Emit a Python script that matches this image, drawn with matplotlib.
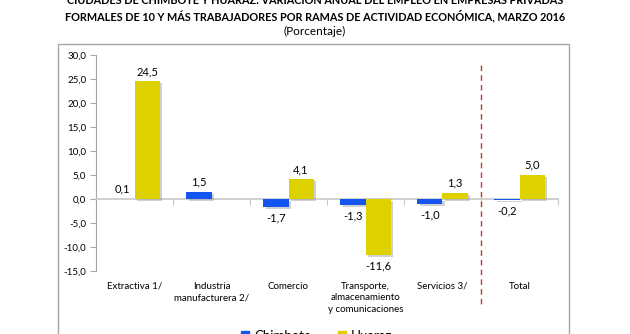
import matplotlib
matplotlib.use("Agg")
import matplotlib.pyplot as plt
import matplotlib.patheffects as pe
from matplotlib.patches import Rectangle
import numpy as np

categories = ["Extractiva 1/", "Industria\nmanufacturera 2/", "Comercio",
              "Transporte,\nalmacenamiento\ny comunicaciones", "Servicios 3/", "Total"]
chimbote = [0.1, 1.5, -1.7, -1.3, -1.0, -0.2]
huaraz = [24.5, None, 4.1, -11.6, 1.3, 5.0]
series_names = ["Chimbote", "Huaraz"]
yticks = [-15, -10, -5, 0, 5, 10, 15, 20, 25, 30]

title1 = "CIUDADES DE CHIMBOTE Y HUARAZ: VARIACIÓN ANUAL DEL EMPLEO EN EMPRESAS PRIVADAS"
title2 = "FORMALES DE 10 Y MÁS TRABAJADORES POR RAMAS DE ACTIVIDAD ECONÓMICA, MARZO 2016"
subtitle = "(Porcentaje)"

plt.rcParams['font.family'] = ['Lato', 'DejaVu Sans']

BLUE = "#1455F0"
YELLOW = "#DDD200"
GRAY = "#A6A6A6"

fig = plt.figure(figsize=(6.3, 3.34), dpi=100)
fig.patch.set_facecolor("white")

# outer frame
fig.patches.append(Rectangle((58/630, -0.05), (569-58)/630, 1.05 - 44/334,
                             transform=fig.transFigure, fill=False,
                             edgecolor=GRAY, linewidth=1.0))

ax = fig.add_axes([96/630, 1 - 271/334, (558-96)/630, (271-55)/334])
x = np.arange(len(categories))
w = 0.325
shadow = [pe.SimplePatchShadow(offset=(1.5, -1.5), shadow_rgbFace="#999999", alpha=0.45), pe.Normal()]

def fmt(v):
    return f"{v:.1f}".replace(".", ",")

for i, v in enumerate(chimbote):
    b = ax.bar(x[i] - w/2, v, w, color=BLUE, zorder=3)
    b[0].set_path_effects(shadow)
    if v >= 0:
        ax.annotate(fmt(v), (x[i] - w/2, v), xytext=(0, 3), textcoords="offset points",
                    ha="center", va="bottom", fontsize=8)
    else:
        ax.annotate(fmt(v), (x[i] - w/2, v), xytext=(0, -4), textcoords="offset points",
                    ha="center", va="top", fontsize=8)
for i, v in enumerate(huaraz):
    if v is None:
        continue
    b = ax.bar(x[i] + w/2, v, w, color=YELLOW, zorder=3)
    b[0].set_path_effects(shadow)
    if v >= 0:
        ax.annotate(fmt(v), (x[i] + w/2, v), xytext=(0, 3), textcoords="offset points",
                    ha="center", va="bottom", fontsize=8)
    else:
        ax.annotate(fmt(v), (x[i] + w/2, v), xytext=(0, -4), textcoords="offset points",
                    ha="center", va="top", fontsize=8)

ax.set_xlim(-0.5, len(categories) - 0.5)
ax.set_ylim(-15, 30)
ax.set_yticks(yticks)
ax.set_yticklabels([fmt(t) for t in yticks])
ax.tick_params(axis="y", direction="out", length=4, color=GRAY, labelsize=7, pad=3)
ax.spines["left"].set_color(GRAY)
ax.spines["right"].set_visible(False)
ax.spines["top"].set_visible(False)
ax.spines["bottom"].set_position(("data", 0))
ax.spines["bottom"].set_color("#C8C8C8")
ax.spines["bottom"].set_linewidth(1.2)
ax.set_xticks(np.arange(len(categories) + 1) - 0.5)
ax.set_xticklabels([])
ax.tick_params(axis="x", direction="out", length=4, color="#C8C8C8")
ax.patch.set_visible(False)

trans = matplotlib.transforms.blended_transform_factory(ax.transData, ax.transAxes)
for i, c in enumerate(categories):
    ax.text(x[i], -0.05, c, transform=trans, ha="center", va="top", fontsize=7,
            linespacing=1.35)

# dashed separator between Servicios and Total
ax.plot([4.5, 4.5], [28, -22], color="#C0392B", linestyle=(0, (4, 3)), linewidth=1.0,
        clip_on=False, zorder=4)

fig.text(0.5, 1 - 0.5/334, title1, ha="center", va="center", fontsize=7.8, fontweight="bold")
fig.text(0.5, 1 - 16/334, title2, ha="center", va="center", fontsize=7.8, fontweight="bold")
fig.text(0.5, 1 - 31/334, subtitle, ha="center", va="center", fontsize=8.5)

handles = [Rectangle((0, 0), 1, 1, color=BLUE), Rectangle((0, 0), 1, 1, color=YELLOW)]
fig.legend(handles, series_names, loc="upper center", bbox_to_anchor=(317/630, 1 - 321/334),
           ncol=2, frameon=False, fontsize=9.5, handlelength=0.6, handleheight=0.6,
           columnspacing=2.0, handletextpad=0.4, borderpad=0.2)

fig.savefig("out.png", dpi=100)
